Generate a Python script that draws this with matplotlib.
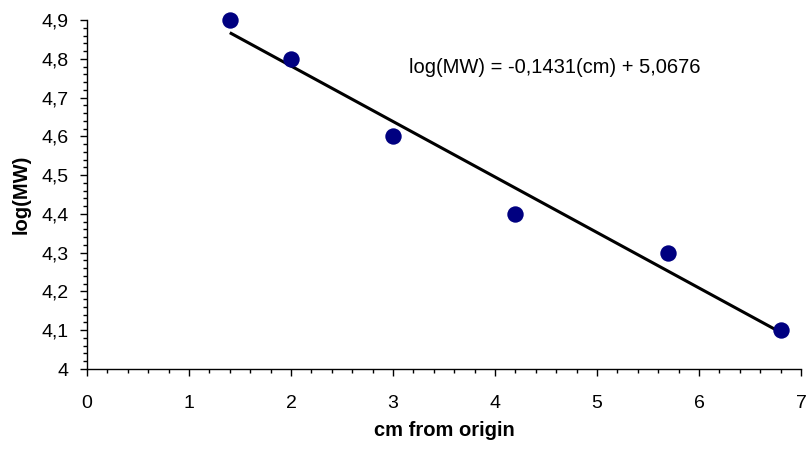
import numpy as np
import matplotlib
matplotlib.use("Agg")
import matplotlib.pyplot as plt
from matplotlib.ticker import MultipleLocator, FuncFormatter

cm_from_origin = [1.4, 2.0, 3.0, 4.2, 5.7, 6.8]
log_mw = [4.9, 4.8, 4.6, 4.4, 4.3, 4.1]
x_label = "cm from origin"
y_label = "log(MW)"

plt.rcParams['font.family'] = ['Liberation Sans', 'DejaVu Sans']

fig = plt.figure(figsize=(8.09, 4.49), dpi=100)
ax = fig.add_axes([87/809, 80/449, (801-87)/809, (369-20)/449])

slope, intercept = np.polyfit(cm_from_origin, log_mw, 1)
xs = np.array([min(cm_from_origin), max(cm_from_origin)])
ax.plot(xs, slope*xs + intercept, color='black', lw=2.2, zorder=2,
        solid_capstyle='butt', clip_on=False)
ax.scatter(cm_from_origin, log_mw, s=11.8**2, color='#000080', zorder=3,
           linewidths=0, clip_on=False)

eq = "log(MW) = {}(cm) + {}".format(f"{slope:.4f}".replace('.', ','),
                                     f"{intercept:.4f}".replace('.', ','))
ax.text(3.16, 4.777, eq, fontsize=14.5, va='center', ha='left')

ax.set_xlim(0, 7)
ax.set_ylim(4, 4.9)
ax.xaxis.set_major_locator(MultipleLocator(1))
ax.xaxis.set_minor_locator(MultipleLocator(0.2))
ax.yaxis.set_major_locator(MultipleLocator(0.1))
ax.yaxis.set_minor_locator(MultipleLocator(0.02))
fmt = FuncFormatter(lambda v, p: f"{v:.1f}".rstrip('0').rstrip('.').replace('.', ','))
ax.yaxis.set_major_formatter(fmt)
ax.xaxis.set_major_formatter(FuncFormatter(lambda v, p: f"{v:g}"))

for s in ['top', 'right']:
    ax.spines[s].set_visible(False)
for s in ['left', 'bottom']:
    ax.spines[s].set_linewidth(1.0)

ax.tick_params(which='major', direction='out', length=5, width=1, labelsize=14)
ax.tick_params(which='minor', direction='out', length=3, width=1)
ax.tick_params(axis='x', which='major', pad=14)
ax.tick_params(axis='y', which='major', pad=8)

ax.set_xlabel(x_label, fontsize=14.5, fontweight='bold')
ax.set_ylabel(y_label, fontsize=14.5, fontweight='bold')
ax.xaxis.set_label_coords(0.5, -0.148)
ax.yaxis.set_label_coords(-0.079, 0.5)

fig.savefig("out.png", dpi=100)
